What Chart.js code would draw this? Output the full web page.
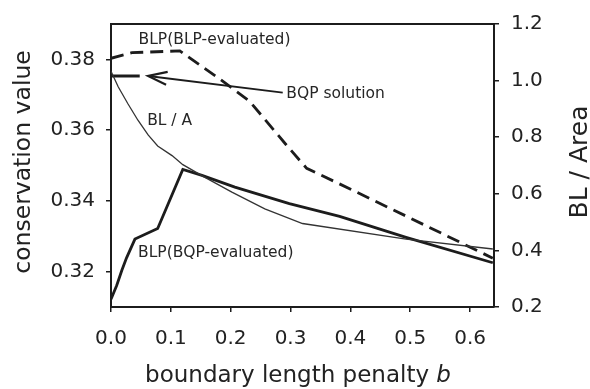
<!DOCTYPE html>
<html><head><meta charset="utf-8">
<script src="https://cdn.jsdelivr.net/npm/chart.js@4.4.0/dist/chart.umd.min.js"></script>
<style>html,body{margin:0;padding:0;background:#fff;}</style>
</head><body>
<canvas id="c" width="590" height="389" style="width:590px;height:389px;display:block"></canvas>
<script>
// ---- data ----
const xTicks = [0, 0.1, 0.2, 0.3, 0.4, 0.5, 0.6];
const leftTicks = [0.32, 0.34, 0.36, 0.38];
const rightTicks = [0.2, 0.4, 0.6, 0.8, 1.0, 1.2];

// BLP (BLP-evaluated), conservation value (left axis), dashed
const blpEvalB = [0, 0.035, 0.115, 0.182, 0.232, 0.293, 0.327, 0.403, 0.638];
const blpEvalV = [0.3803, 0.3819, 0.3824, 0.3744, 0.3681, 0.3558, 0.3492, 0.3431, 0.3238];

// BLP (BQP-evaluated), conservation value (left axis), solid thick
const bqpEvalB = [0, 0.0095, 0.018, 0.026, 0.04, 0.078, 0.12, 0.152, 0.207, 0.298, 0.382, 0.493, 0.638];
const bqpEvalV = [0.3122, 0.3161, 0.3203, 0.3239, 0.3292, 0.3322, 0.3489, 0.3472, 0.3439, 0.3392, 0.3356, 0.3297, 0.3225];

// BL / A (right axis), thin
const blaB = [0, 0.012, 0.028, 0.045, 0.062, 0.078, 0.102, 0.12, 0.157, 0.202, 0.257, 0.32, 0.493, 0.638];
const blaV = [1.033, 0.978, 0.919, 0.860, 0.808, 0.769, 0.735, 0.703, 0.658, 0.606, 0.547, 0.495, 0.440, 0.405];

// BQP solution marker (left axis)
const bqpSolB = [0, 0.048];
const bqpSolV = [0.3753, 0.3753];

// arrow from label to BQP solution (tip is last point)
const arrowB = [0.287, 0.062];
const arrowV = [0.3706, 0.3753];

// annotation labels
const labelTexts = ["BLP(BLP-evaluated)", "BQP solution", "BL / A", "BLP(BQP-evaluated)"];
const labelB = [0.173, 0.293, 0.098, 0.175];
const labelV = [0.3856, 0.3703, 0.3627, 0.3254];
const labelAlign = ["center", "left", "center", "center"];

const FONT = "'DejaVu Sans', 'Liberation Sans', Arial, sans-serif";
const INK = '#1c1c1c';

const pts = (bs, vs) => bs.map((b, i) => ({x: b, y: vs[i]}));

const decor = {
  id: 'decor',
  afterDraw(chart) {
    const {ctx, chartArea: ca, scales} = chart;
    const sx = scales.x, sy = scales.y;
    ctx.save();
    // top frame line
    ctx.strokeStyle = INK; ctx.lineWidth = 2;
    ctx.beginPath(); ctx.moveTo(ca.left - 1, ca.top); ctx.lineTo(ca.right + 1, ca.top); ctx.stroke();

    // arrowhead
    const n = arrowB.length;
    const tx = sx.getPixelForValue(arrowB[n-1]), ty = sy.getPixelForValue(arrowV[n-1]);
    const fx = sx.getPixelForValue(arrowB[n-2]), fy = sy.getPixelForValue(arrowV[n-2]);
    const ang = Math.atan2(fy - ty, fx - tx);
    const L = 20, W = 0.33;
    ctx.lineWidth = 2.2; ctx.lineJoin = 'miter';
    ctx.beginPath();
    ctx.moveTo(tx + L*Math.cos(ang - W), ty + L*Math.sin(ang - W));
    ctx.lineTo(tx, ty);
    ctx.lineTo(tx + L*Math.cos(ang + W), ty + L*Math.sin(ang + W));
    ctx.stroke();

    // annotation labels
    ctx.fillStyle = '#262626';
    ctx.font = '15.5px ' + FONT;
    ctx.textBaseline = 'middle';
    labelTexts.forEach((t, i) => {
      ctx.textAlign = labelAlign[i];
      ctx.fillText(t, sx.getPixelForValue(labelB[i]), sy.getPixelForValue(labelV[i]));
    });

    // axis titles
    ctx.fillStyle = '#222';
    ctx.textBaseline = 'alphabetic';
    ctx.textAlign = 'center';
    ctx.save();
    ctx.translate(30, 162); ctx.rotate(-Math.PI/2);
    ctx.font = '23.5px ' + FONT;
    ctx.fillText('conservation value', 0, 0);
    ctx.restore();
    ctx.save();
    ctx.translate(587, 162); ctx.rotate(-Math.PI/2);
    ctx.font = '25px ' + FONT;
    ctx.fillText('BL / Area', 0, 0);
    ctx.restore();

    // x title with italic b
    const part1 = 'boundary length penalty ', part2 = 'b';
    ctx.font = '23px ' + FONT;
    const w1 = ctx.measureText(part1).width;
    ctx.font = 'italic 23px ' + FONT;
    const w2 = ctx.measureText(part2).width;
    const start = 298 - (w1 + w2)/2;
    ctx.textAlign = 'left';
    ctx.font = '23px ' + FONT;
    ctx.fillText(part1, start, 382);
    ctx.font = 'italic 23px ' + FONT;
    ctx.fillText(part2, start + w1, 382);
    ctx.restore();
  }
};

const tickFont = {family: FONT, size: 20};
const grid = {drawOnChartArea: false, drawTicks: true, tickLength: 5, color: INK, lineWidth: 1.5};
const border = {display: true, color: INK, width: 2};

new Chart(document.getElementById('c'), {
  type: 'scatter',
  data: {
    datasets: [
      {data: pts(blaB, blaV), yAxisID: 'y2', showLine: true, borderColor: '#333', borderWidth: 1.3, pointRadius: 0, fill: false},
      {data: pts(bqpEvalB, bqpEvalV), yAxisID: 'y', showLine: true, borderColor: INK, borderWidth: 2.8, pointRadius: 0, fill: false},
      {data: pts(blpEvalB, blpEvalV), yAxisID: 'y', showLine: true, borderColor: INK, borderWidth: 2.8, borderDash: [13, 7], pointRadius: 0, fill: false},
      {data: pts(bqpSolB, bqpSolV), yAxisID: 'y', showLine: true, borderColor: INK, borderWidth: 3, pointRadius: 0, fill: false},
      {data: pts(arrowB, arrowV), yAxisID: 'y', showLine: true, borderColor: INK, borderWidth: 2, pointRadius: 0, fill: false}
    ]
  },
  options: {
    responsive: false,
    animation: false,
    events: [],
    devicePixelRatio: 1,
    layout: {padding: {top: 19, left: 0, right: 0, bottom: 0}},
    plugins: {legend: {display: false}, tooltip: {enabled: false}},
    scales: {
      x: {
        type: 'linear', min: 0, max: 0.64,
        afterBuildTicks: s => { s.ticks = xTicks.map(v => ({value: v})); },
        afterFit: s => { s.height = 82; },
        ticks: {callback: v => Number(v).toFixed(1), font: tickFont, color: '#222', padding: 15, maxRotation: 0, autoSkip: false},
        grid: grid, border: border
      },
      y: {
        type: 'linear', position: 'left', min: 0.31, max: 0.39,
        afterBuildTicks: s => { s.ticks = leftTicks.map(v => ({value: v})); },
        afterFit: s => { s.width = 111; },
        ticks: {callback: v => Number(v).toFixed(2), font: tickFont, color: '#222', padding: 11},
        grid: grid, border: border
      },
      y2: {
        type: 'linear', position: 'right', min: 0.2, max: 1.2,
        afterBuildTicks: s => { s.ticks = rightTicks.map(v => ({value: v})); },
        afterFit: s => { s.width = 96; },
        ticks: {callback: v => Number(v).toFixed(1), font: tickFont, color: '#222', padding: 12},
        grid: grid, border: border
      }
    }
  },
  plugins: [decor]
});
</script>
</body></html>
